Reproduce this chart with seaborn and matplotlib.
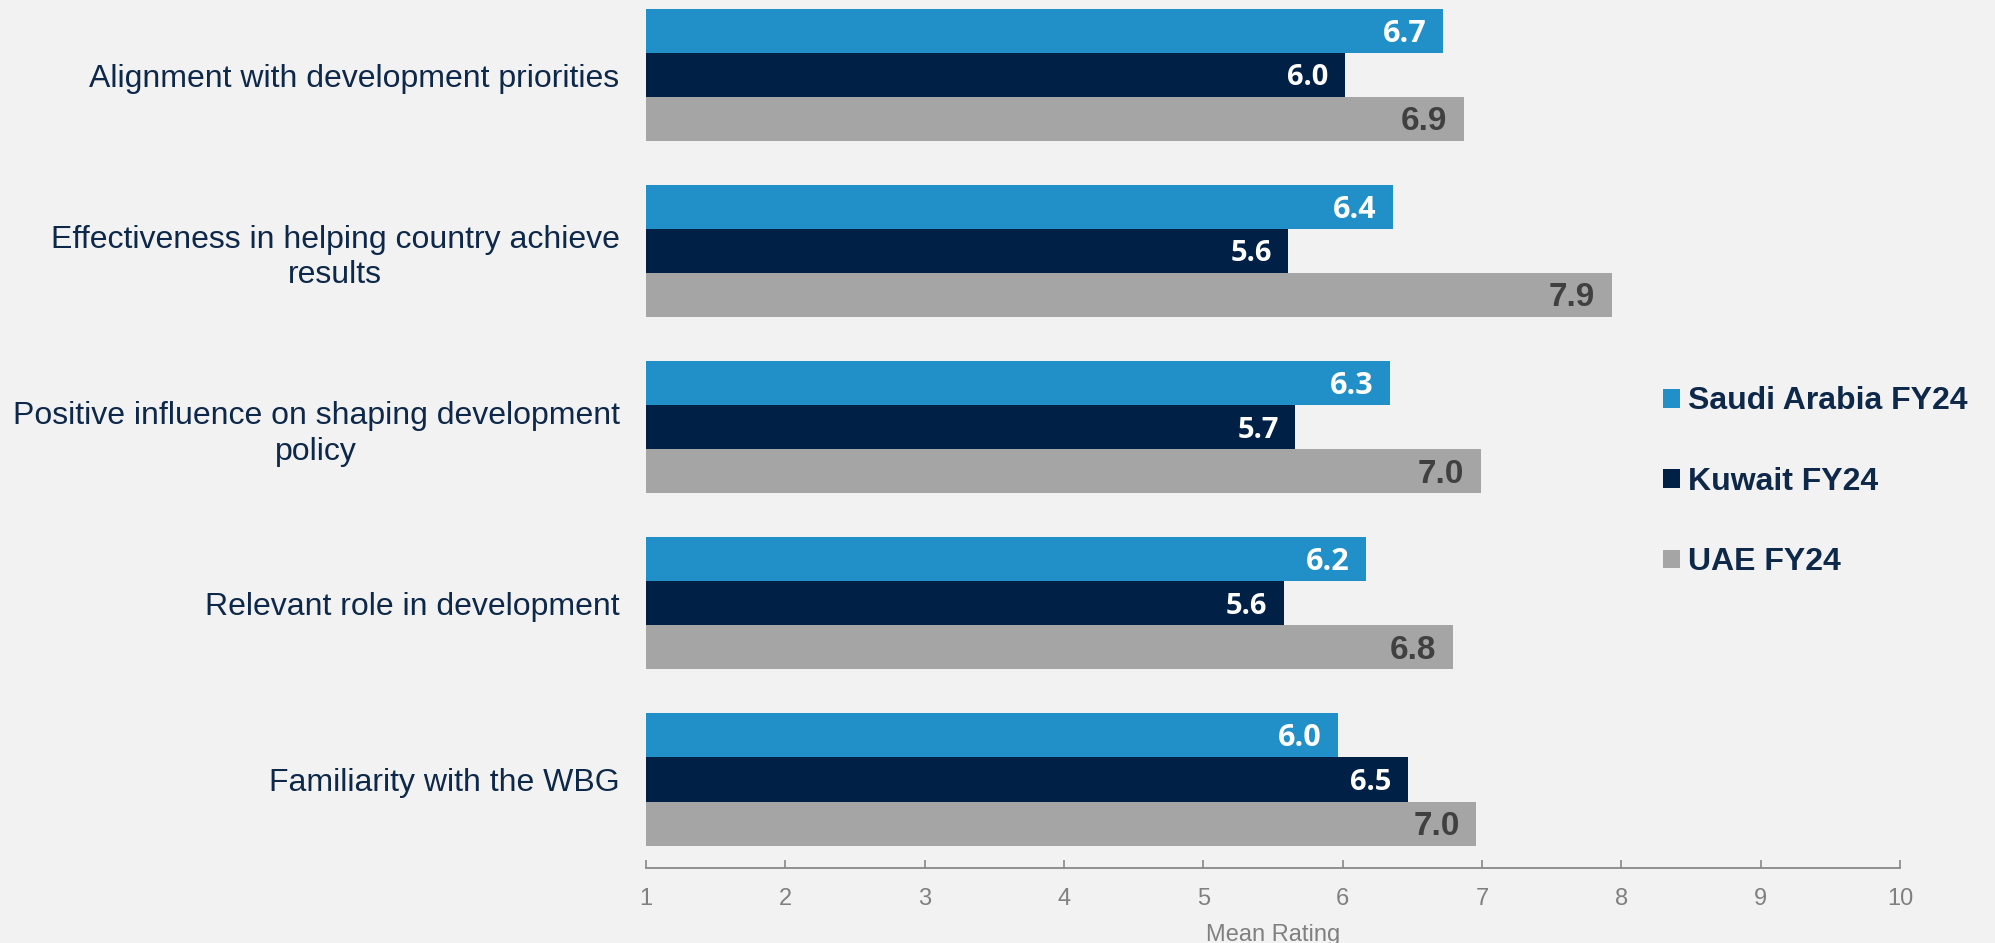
import warnings
warnings.filterwarnings("ignore")
import matplotlib
matplotlib.use("Agg")
import matplotlib.pyplot as plt
import seaborn as sns
import pandas as pd

categories = [
    "Alignment with development priorities",
    "Effectiveness in helping country achieve\nresults",
    "Positive influence on shaping development\npolicy",
    "Relevant role in development",
    "Familiarity with the WBG",
]
series_names = ["Saudi Arabia FY24", "Kuwait FY24", "UAE FY24"]
saudi = [6.72, 6.36, 6.34, 6.17, 5.97]
kuwait = [6.02, 5.61, 5.66, 5.58, 6.47]
uae = [6.87, 7.93, 6.99, 6.79, 6.96]
x_ticks = [1, 2, 3, 4, 5, 6, 7, 8, 9, 10]
x_label = "Mean Rating"

colors = ["#2190C8", "#002145", "#A5A5A5"]
label_colors = ["white", "white", "#404040"]

rows = []
for name, vals in zip(series_names, [saudi, kuwait, uae]):
    for c, v in zip(categories, vals):
        rows.append({"category": c, "country": name, "value": v})
df = pd.DataFrame(rows)

sns.set_theme(style="white")
plt.rcParams["font.family"] = ["Liberation Sans", "DejaVu Sans"]
bg = "#F2F2F2"

fig = plt.figure(figsize=(19.95, 9.43), dpi=100, facecolor=bg)
ax = fig.add_axes([0.3238, 0.0800, 0.6286, 0.9200])
ax.set_facecolor(bg)

sns.barplot(data=df, y="category", x="value", hue="country", orient="h",
            order=categories, hue_order=series_names, palette=colors,
            saturation=1, width=0.75, gap=0, ax=ax, linewidth=0)

ax.set_xlim(1, 10)
ax.set_ylim(4.50, -0.426)
ax.set_xticks(x_ticks)
ax.set_xticklabels([str(t) for t in x_ticks], fontsize=17, color="#808080")
ax.set_xlabel(x_label, fontsize=17, color="#808080", labelpad=10)
ax.set_ylabel("")
for s in ["top", "right", "left"]:
    ax.spines[s].set_visible(False)
ax.spines["bottom"].set_color("#888888")
ax.spines["bottom"].set_linewidth(1.3)
ax.tick_params(axis="x", bottom=True, direction="in", length=5.5, width=1.2,
               color="#888888", pad=15)
ax.tick_params(axis="y", left=False, length=0, pad=19)
for lbl in ax.get_yticklabels():
    lbl.set_fontsize(23)
    lbl.set_color("#0E2849")
    lbl.set_multialignment("center")
    lbl.set_linespacing(1.25)

styles = [
    dict(fontfamily=["Open Sans"], fontsize=22, fontweight="bold"),
    dict(fontfamily=["Open Sans"], fontsize=21, fontweight="bold"),
    dict(fontfamily=["Liberation Sans"], fontsize=24, fontweight="bold"),
]
for cont, lc, st in zip(ax.containers, label_colors, styles):
    for p in cont.patches:
        w = p.get_width()
        yc = p.get_y() + p.get_height() / 2
        ax.annotate(f"{w:.1f}", xy=(w, yc), xytext=(-12, -2), textcoords="offset points",
                    ha="right", va="center", color=lc, **st)

handles, labels = ax.get_legend_handles_labels()
leg = ax.legend(handles, labels, loc="center left", bbox_to_anchor=(0.8336, 0.4890),
                bbox_transform=fig.transFigure, frameon=False, borderpad=0, borderaxespad=0,
                handlelength=0.53, handleheight=0.53, handletextpad=0.25, labelspacing=1.58,
                prop=dict(family="Liberation Sans", weight="bold", size=23))
for t in leg.get_texts():
    t.set_color("#0E2849")

fig.savefig("out.png", dpi=100, facecolor=bg)
